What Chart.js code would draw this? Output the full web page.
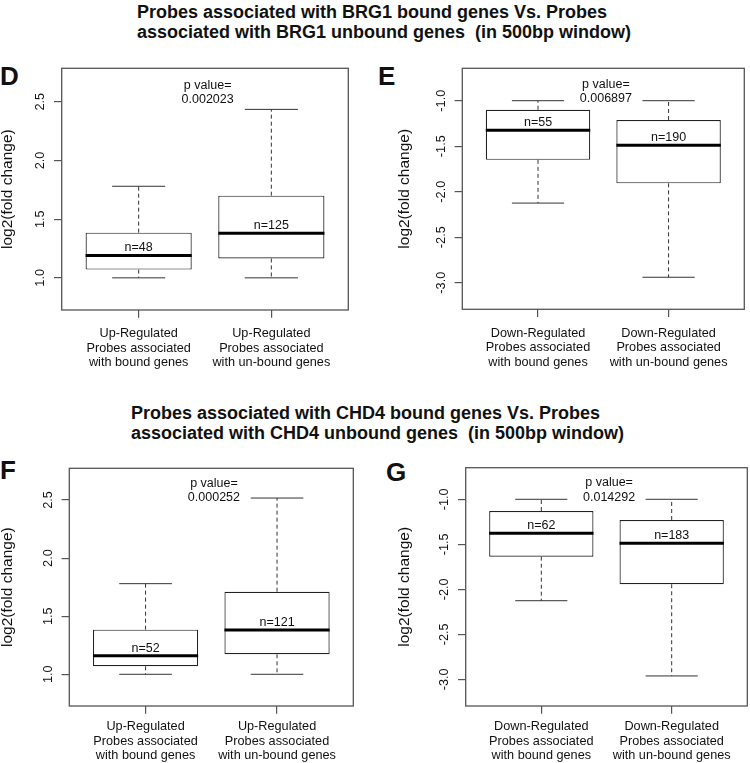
<!DOCTYPE html>
<html>
<head>
<meta charset="utf-8">
<script src="https://cdn.jsdelivr.net/npm/chart.js@4.4.1/dist/chart.umd.min.js"></script>
<style>
  html, body { margin: 0; padding: 0; background: #fff; }
  body { width: 750px; height: 763px; position: relative; overflow: hidden;
         font-family: "Liberation Sans", Arial, sans-serif; color: #111; }
  .titulo { position: absolute; font-weight: bold; font-size: 18px; line-height: 20px; white-space: pre; }
  .letra { position: absolute; font-weight: bold; font-size: 26px; line-height: 26px; }
  canvas { position: absolute; }
</style>
</head>
<body>
<div class="titulo" style="left:137px;top:2px">Probes associated with BRG1 bound genes Vs. Probes
associated with BRG1 unbound genes  (in 500bp window)</div>
<div class="titulo" style="left:131px;top:403px">Probes associated with CHD4 bound genes Vs. Probes
associated with CHD4 unbound genes  (in 500bp window)</div>
<div class="letra" style="left:0px;top:63px">D</div>
<div class="letra" style="left:378px;top:63px">E</div>
<div class="letra" style="left:0px;top:457px">F</div>
<div class="letra" style="left:386px;top:459px">G</div>

<canvas id="grafD" width="375" height="332" style="left:0px;top:48px"></canvas>
<canvas id="grafE" width="375" height="332" style="left:375px;top:48px"></canvas>
<canvas id="grafF" width="375" height="315" style="left:0px;top:448px"></canvas>
<canvas id="grafG" width="375" height="315" style="left:375px;top:448px"></canvas>

<script>
// rótulos do eixo x
const rotulosUp = [
    ['Up-Regulated', 'Probes associated', 'with bound genes'],
    ['Up-Regulated', 'Probes associated', 'with un-bound genes']
];
const rotulosDown = [
    ['Down-Regulated', 'Probes associated', 'with bound genes'],
    ['Down-Regulated', 'Probes associated', 'with un-bound genes']
];
const ticksUp = [1.0, 1.5, 2.0, 2.5];
const ticksDown = [-3.0, -2.5, -2.0, -1.5, -1.0];

// D - BRG1, up-regulated
const minD = [1.0, 1.0];
const q1D = [1.07, 1.165];
const medD = [1.19, 1.38];
const q3D = [1.385, 1.70];
const maxD = [1.78, 2.435];
const nD = [48, 125];
const pD = '0.002023';

// E - BRG1, down-regulated
const minE = [-2.125, -2.94];
const q1E = [-1.65, -1.908];
const medE = [-1.326, -1.489];
const q3E = [-1.099, -1.212];
const maxE = [-1.0, -1.0];
const nE = [55, 190];
const pE = '0.006897';

// F - CHD4, up-regulated
const minF = [1.0, 1.0];
const q1F = [1.069, 1.172];
const medF = [1.16, 1.381];
const q3F = [1.384, 1.711];
const maxF = [1.78, 2.517];
const nF = [52, 121];
const pF = '0.000252';

// G - CHD4, down-regulated
const minG = [-2.127, -2.963];
const q1G = [-1.638, -1.944];
const medG = [-1.378, -1.489];
const q3G = [-1.13, -1.23];
const maxG = [-1.0, -1.0];
const nG = [62, 183];
const pG = '0.014292';

const fonte = '"Liberation Sans", Arial, sans-serif';

// desenha bigodes, medianas, textos e a moldura usando as escalas do gráfico
function pluginCaixas(p) {
    return {
        id: 'caixas',
        afterDatasetsDraw(chart) {
            const { ctx, scales: { x, y } } = chart;
            ctx.save();
            for (let i = 0; i < p.med.length; i++) {
                const cx = x.getPixelForValue(i + 1);
                const meia = x.getPixelForValue(i + 1.4) - cx;
                const capa = meia / 2;
                const yMed = y.getPixelForValue(p.med[i]);

                // bigodes tracejados
                ctx.strokeStyle = '#333';
                ctx.lineWidth = 1;
                ctx.setLineDash([4, 3]);
                ctx.beginPath();
                ctx.moveTo(cx, y.getPixelForValue(p.q3[i]));
                ctx.lineTo(cx, y.getPixelForValue(p.maxs[i]));
                ctx.moveTo(cx, y.getPixelForValue(p.q1[i]));
                ctx.lineTo(cx, y.getPixelForValue(p.mins[i]));
                ctx.stroke();
                ctx.setLineDash([]);

                // extremidades
                ctx.beginPath();
                ctx.moveTo(cx - capa, y.getPixelForValue(p.maxs[i]));
                ctx.lineTo(cx + capa, y.getPixelForValue(p.maxs[i]));
                ctx.moveTo(cx - capa, y.getPixelForValue(p.mins[i]));
                ctx.lineTo(cx + capa, y.getPixelForValue(p.mins[i]));
                ctx.stroke();

                // mediana
                ctx.strokeStyle = '#000';
                ctx.lineWidth = 3;
                ctx.beginPath();
                ctx.moveTo(cx - meia, yMed);
                ctx.lineTo(cx + meia, yMed);
                ctx.stroke();

                // n=
                ctx.fillStyle = '#111';
                ctx.font = '12.5px ' + fonte;
                ctx.textAlign = 'center';
                ctx.textBaseline = 'middle';
                ctx.fillText('n=' + p.n[i], cx, yMed - 7.5);
            }
            // p value
            const px = x.getPixelForValue(1.52);
            const py = y.getPixelForValue(p.pY);
            ctx.fillText('p value=', px, py - 7.25);
            ctx.fillText(p.p, px, py + 7.25);
            ctx.restore();
        },
        afterDraw(chart) {
            const { ctx, chartArea: a } = chart;
            ctx.save();
            ctx.strokeStyle = '#555';
            ctx.lineWidth = 1.3;
            ctx.strokeRect(a.left, a.top, a.right - a.left, a.bottom - a.top);
            ctx.restore();
        }
    };
}

function criarPainel(id, p) {
    const ctx = document.getElementById(id).getContext('2d');
    return new Chart(ctx, {
        type: 'bar',
        data: {
            datasets: [{
                data: p.q1.map((v, i) => ({ x: i + 1, y: [v, p.q3[i]] })),
                backgroundColor: '#fff',
                borderColor: '#222',
                borderWidth: 1.2,
                borderSkipped: false,
                barPercentage: 0.8,
                categoryPercentage: 1.0
            }]
        },
        options: {
            responsive: false,
            animation: false,
            devicePixelRatio: 1,
            layout: { padding: { left: 0, top: p.padTop, right: p.padRight, bottom: 0 } },
            plugins: {
                legend: { display: false },
                tooltip: { enabled: false }
            },
            scales: {
                x: {
                    type: 'linear',
                    min: 0.42,
                    max: 2.58,
                    offset: false,
                    afterBuildTicks: s => { s.ticks = [{ value: 1 }, { value: 2 }]; },
                    afterFit: s => { s.height = p.alturaX; },
                    grid: { offset: false, drawOnChartArea: false, tickLength: 7.7, color: '#555', lineWidth: 1.2 },
                    border: { display: false },
                    ticks: {
                        autoSkip: false,
                        maxRotation: 0,
                        minRotation: 0,
                        padding: p.padX,
                        color: '#111',
                        font: { family: fonte, size: 12.7, lineHeight: 1.14 },
                        callback: v => p.rotulos[v - 1]
                    }
                },
                y: {
                    type: 'linear',
                    min: p.yMin,
                    max: p.yMax,
                    afterBuildTicks: s => { s.ticks = p.ticks.map(v => ({ value: v })); },
                    afterFit: s => { s.width = p.larguraY; },
                    grid: { drawOnChartArea: false, tickLength: 7.7, color: '#555', lineWidth: 1.2 },
                    border: { display: false },
                    title: {
                        display: true,
                        text: 'log2(fold change)',
                        color: '#111',
                        font: { family: fonte, size: 15.5, lineHeight: 1 },
                        padding: { top: p.padTitulo, bottom: 0 }
                    },
                    ticks: {
                        minRotation: 90,
                        maxRotation: 90,
                        crossAlign: 'center',
                        padding: p.padTick,
                        color: '#111',
                        font: { family: fonte, size: 12.7 },
                        callback: v => v.toFixed(1)
                    }
                }
            }
        },
        plugins: [pluginCaixas(p)]
    });
}

criarPainel('grafD', {
    rotulos: rotulosUp, ticks: ticksUp, yMin: 0.726, yMax: 2.785,
    mins: minD, q1: q1D, med: medD, q3: q3D, maxs: maxD, n: nD, p: pD, pY: 2.58,
    padTop: 20.3, padRight: 26.7, larguraY: 61.7, alturaX: 70, padTitulo: 0, padTick: 4.5, padX: 9
});
criarPainel('grafE', {
    rotulos: rotulosDown, ticks: ticksDown, yMin: -3.292, yMax: -0.644,
    mins: minE, q1: q1E, med: medE, q3: q3E, maxs: maxE, n: nE, p: pE, pY: -0.9,
    padTop: 20.3, padRight: 5.7, larguraY: 87.3, alturaX: 70.7, padTitulo: 22.25, padTick: 2.4, padX: 9
});
criarPainel('grafF', {
    rotulos: rotulosUp, ticks: ticksUp, yMin: 0.727, yMax: 2.773,
    mins: minF, q1: q1F, med: medF, q3: q3F, maxs: maxF, n: nF, p: pF, pY: 2.58,
    padTop: 20.3, padRight: 21.7, larguraY: 69.3, alturaX: 57, padTitulo: 0, padTick: 4.5, padX: 6
});
criarPainel('grafG', {
    rotulos: rotulosDown, ticks: ticksDown, yMin: -3.297, yMax: -0.649,
    mins: minG, q1: q1G, med: medG, q3: q3G, maxs: maxG, n: nG, p: pG, pY: -0.9,
    padTop: 19.7, padRight: 2.7, larguraY: 90.7, alturaX: 57, padTitulo: 22.25, padTick: 2.4, padX: 6
});
</script>
</body>
</html>
